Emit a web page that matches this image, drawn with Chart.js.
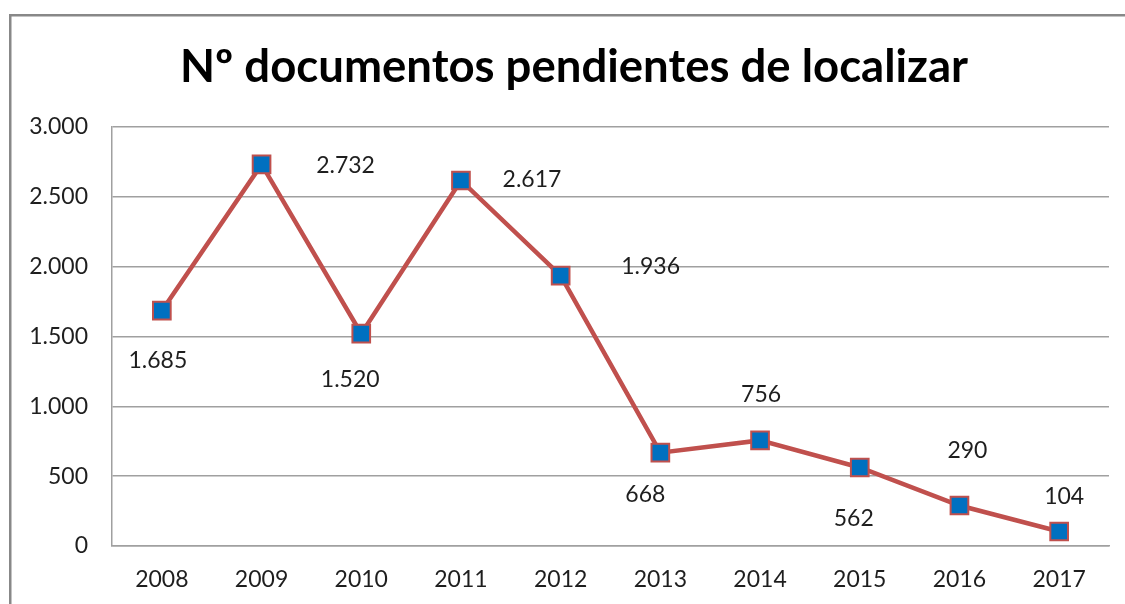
<!DOCTYPE html>
<html>
<head>
<meta charset="utf-8">
<script src="https://cdn.jsdelivr.net/npm/chart.js@4/dist/chart.umd.min.js"></script>
<style>
html,body{margin:0;padding:0;background:#fff;}
#wrap{width:1125px;height:604px;position:relative;}
</style>
</head>
<body>
<div id="wrap"><canvas id="c" width="1125" height="604"></canvas></div>
<script>
const categories = ['2008','2009','2010','2011','2012','2013','2014','2015','2016','2017'];
const values = [1685, 2732, 1520, 2617, 1936, 668, 756, 562, 290, 104];
const titleText = 'Nº documentos pendientes de localizar';
// label offsets relative to each point (dx, dy in px)
const labelDx = [-4, 84, -11, 71, 90, -15, 1, -6, 8, 5];
const labelDy = [50, 1, 46, -1, -9, 42, -46, 51, -55, -35];

const fmt = v => v.toLocaleString('de-DE');

const frame = {
  id: 'frame',
  beforeDraw(chart) {
    const ctx = chart.ctx;
    ctx.save();
    ctx.fillStyle = '#fff';
    ctx.fillRect(0, 0, chart.width, chart.height);
    ctx.strokeStyle = '#888888';
    ctx.lineWidth = 2.5;
    ctx.strokeRect(10.25, 15.25, 1300, 700);
    // chart title, centred in the outer frame
    ctx.fillStyle = '#000';
    ctx.font = 'bold 45.5px Lato';
    ctx.textAlign = 'center';
    ctx.textBaseline = 'middle';
    ctx.fillText(titleText, 574, 67);
    ctx.restore();
  }
};

const dataLabels = {
  id: 'dataLabels',
  afterDatasetsDraw(chart) {
    const ctx = chart.ctx;
    const meta = chart.getDatasetMeta(0);
    ctx.save();
    ctx.font = '23px Lato';
    ctx.fillStyle = '#1e1e1e';
    ctx.textAlign = 'center';
    ctx.textBaseline = 'middle';
    meta.data.forEach((pt, i) => {
      ctx.fillText(fmt(values[i]), pt.x + labelDx[i], pt.y + labelDy[i]);
    });
    ctx.restore();
  }
};

new Chart(document.getElementById('c'), {
  type: 'line',
  data: {
    labels: categories,
    datasets: [{
      data: values,
      borderColor: '#C0504D',
      borderWidth: 4.5,
      pointStyle: 'rect',
      pointRadius: 12.5,
      pointHoverRadius: 12.5,
      pointBackgroundColor: '#0070C0',
      pointBorderColor: '#C0504D',
      pointBorderWidth: 2,
      tension: 0
    }]
  },
  options: {
    responsive: false,
    animation: false,
    events: [],
    layout: { padding: { left: 0, right: 16, top: 127, bottom: 0 } },
    plugins: {
      legend: { display: false },
      tooltip: { enabled: false },
      title: { display: false }
    },
    scales: {
      x: {
        offset: true,
        afterFit(s) { s.height = 58; },
        grid: { display: false, drawTicks: false },
        border: { display: true, color: '#a0a0a0', width: 1.5 },
        ticks: { color: '#1e1e1e', font: { family: 'Lato', size: 23 }, padding: 20, maxRotation: 0 }
      },
      y: {
        min: 0, max: 3000,
        afterFit(s) { s.width = 112; },
        grid: { color: '#a0a0a0', lineWidth: 1.5, drawTicks: false },
        border: { display: true, color: '#a0a0a0', width: 1.5 },
        ticks: { stepSize: 500, color: '#1e1e1e', font: { family: 'Lato', size: 23 }, padding: 24, callback: v => fmt(v) }
      }
    }
  },
  plugins: [frame, dataLabels]
});
</script>
</body>
</html>
